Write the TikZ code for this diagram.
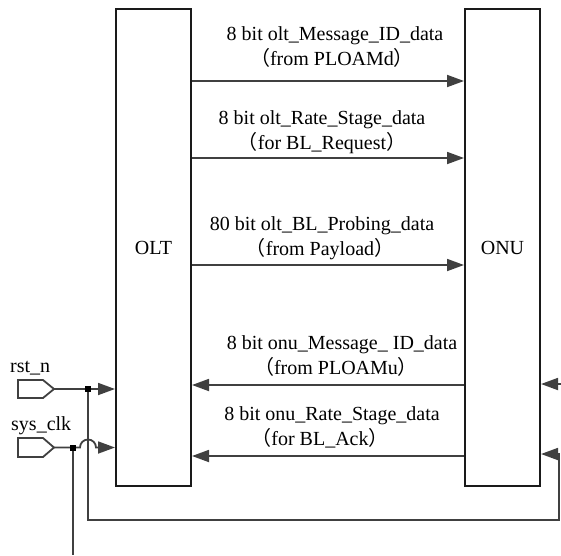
\documentclass[tikz,border=0pt]{standalone}
\usepackage{fontspec}
\setmainfont{Liberation Serif}
\newfontfamily\cjk{Noto Sans CJK SC}
\usetikzlibrary{arrows.meta}
\definecolor{wire}{HTML}{404040}
\definecolor{edge}{HTML}{1A1A1A}
\begin{document}
\begin{tikzpicture}[x=1pt,y=-1pt,
  box/.style={draw=edge,line width=2pt,minimum width=75pt,minimum height=477pt,inner sep=0pt,font=\fontsize{20}{23}\selectfont},
  sig/.style={draw=wire,line width=1.8pt,-{Triangle[length=17pt,width=12pt]}},
  wireline/.style={draw=wire,line width=1.8pt},
  lbl/.style={anchor=base,inner sep=0pt,font=\fontsize{20}{23}\selectfont},
  junc/.style={fill=black,minimum size=6pt,inner sep=0pt},
  port/.style={draw=wire,line width=1.8pt}]
\useasboundingbox (0,0) rectangle (561,555);
\node[box] (olt) at (153.5,247.5) {OLT};
\node[box] (onu) at (502.5,247.5) {ONU};
% arrow rows
\coordinate (a1) at (0,81);
\coordinate (a2) at (0,158);
\coordinate (a3) at (0,265);
\coordinate (a4) at (0,385);
\coordinate (a5) at (0,456);
\draw[sig] (olt.east |- a1) -- (onu.west |- a1);
\draw[sig] (olt.east |- a2) -- (onu.west |- a2);
\draw[sig] (olt.east |- a3) -- (onu.west |- a3);
\draw[sig] (onu.west |- a4) -- (olt.east |- a4);
\draw[sig] (onu.west |- a5) -- (olt.east |- a5);
% labels
\node[lbl] (t1a) at (335,40) {8 bit olt\_Message\_ID\_data};
\node[lbl] (t1b) at (332,65) {{\cjk （}from PLOAMd{\cjk ）}};
\node[lbl] (t2a) at (322,124) {8 bit olt\_Rate\_Stage\_data};
\node[lbl] (t2b) at (322,149) {{\cjk （}for BL\_Request{\cjk ）}};
\node[lbl] (t3a) at (322,230) {80 bit olt\_BL\_Probing\_data};
\node[lbl] (t3b) at (320,255) {{\cjk （}from Payload{\cjk ）}};
\node[lbl] (t4a) at (342,349) {8 bit onu\_Message\_ ID\_data};
\node[lbl] (t4b) at (336,374) {{\cjk （}from PLOAMu{\cjk ）}};
\node[lbl] (t5a) at (332,420) {8 bit onu\_Rate\_Stage\_data};
\node[lbl] (t5b) at (320,445) {{\cjk （}for BL\_Ack{\cjk ）}};
% right input
\coordinate (rin) at (561,384);
\draw[sig] (rin) -- (onu.east |- rin);
% rst_n
\node[lbl,anchor=base west] (rstl) at (10,372) {rst\_n};
\draw[port] (18,380) -- (43,380) -- (54,389) -- (43,398) -- (18,398) -- cycle;
\coordinate (rstp) at (54,389);
\coordinate (j1p) at (88,389);
\draw[sig] (rstp) -- (olt.west |- rstp);
\coordinate (c1) at (88,520);
\coordinate (c2) at (559,520);
\coordinate (c3) at (559,454);
\draw[sig] (j1p) -- (c1) -- (c2) -- (c3) -- (onu.east |- c3);
% sys_clk
\node[lbl,anchor=base west] (clkl) at (11,430) {sys\_clk};
\draw[port] (18,438) -- (43,438) -- (54,447.5) -- (43,457) -- (18,457) -- cycle;
\coordinate (clkp) at (54,447.5);
\coordinate (j2p) at (73,447.5);
\draw[sig] (clkp) -- (80,447.5) arc[start angle=180,end angle=0,radius=8pt] -- (olt.west |- clkp);
\coordinate (c4) at (73,555);
\draw[wireline] (j2p) -- (c4);
% junctions
\node[junc] (j1) at (j1p) {};
\node[junc] (j2) at (j2p) {};
\end{tikzpicture}
\end{document}
